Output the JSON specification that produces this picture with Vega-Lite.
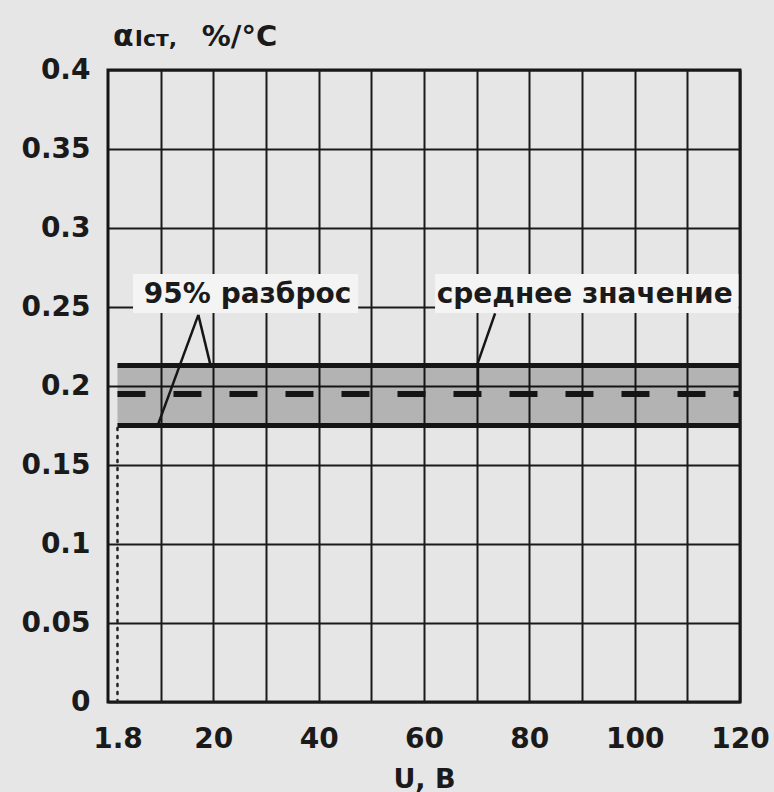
{
  "$schema": "https://vega.github.io/schema/vega-lite/v6.json",
  "width": 632,
  "height": 632,
  "autosize": {"type": "none"},
  "padding": {"left": 108, "top": 70, "right": 34, "bottom": 90},
  "background": "#e6e6e6",
  "config": {
    "view": {"stroke": "#151515", "strokeWidth": 3},
    "font": "DejaVu Sans"
  },
  "datasets": {
    "band": [{"u_from": 1.8, "u_to": 120, "base": 0, "lower": 0.175, "mean": 0.195, "upper": 0.213}],
    "boxes": [
      {"x1": 4.75, "x2": 47.5, "y1": 0.2462, "y2": 0.2709},
      {"x1": 62.1, "x2": 119.7, "y1": 0.2462, "y2": 0.2709}
    ],
    "labels": [
      {"text": "95% разброс", "u": 26.5, "a": 0.2576},
      {"text": "среднее значение", "u": 90.5, "a": 0.2576}
    ],
    "pointers": [
      {"u": 17.15, "a": 0.245, "u2": 9.55, "a2": 0.176},
      {"u": 17.15, "a": 0.245, "u2": 19.4, "a2": 0.214},
      {"u": 73.5, "a": 0.246, "u2": 70.3, "a2": 0.2154},
      {"u": 70.25, "a": 0.2154, "u2": 70.25, "a2": 0.195}
    ]
  },
  "layer": [
    {
      "data": {"name": "band"},
      "mark": {"type": "rect", "fill": "#000000", "opacity": 0.22},
      "encoding": {
        "x": {
          "field": "u_from", "type": "quantitative",
          "scale": {"domain": [0, 120], "nice": false, "zero": false},
          "axis": {
            "values": [1.8, 10, 20, 30, 40, 50, 60, 70, 80, 90, 100, 110, 120],
            "format": "~r",
            "labelExpr": "(datum.value == 1.8 || datum.value % 20 == 0) ? datum.label : ''",
            "grid": true,
            "gridColor": "#1a1a1a",
            "gridWidth": 2,
            "gridOpacity": {"condition": {"test": "datum.value == 1.8", "value": 0}, "value": 1},
            "ticks": false,
            "tickSize": 0,
            "domain": false,
            "labelFont": "DejaVu Sans",
            "labelFontWeight": "bold",
            "labelFontSize": 28,
            "labelColor": "#1a1a1a",
            "labelPadding": 23,
            "labelFlush": false,
            "labelOverlap": false,
            "title": "U, В",
            "titleFont": "DejaVu Sans",
            "titleFontSize": 27,
            "titleFontWeight": "bold",
            "titleColor": "#1a1a1a",
            "titleBaseline": "alphabetic",
            "titleY": 85
          }
        },
        "x2": {"field": "u_to"},
        "y": {
          "field": "lower", "type": "quantitative",
          "scale": {"domain": [0, 0.4], "nice": false, "zero": false},
          "axis": {
            "values": [0, 0.05, 0.1, 0.15, 0.2, 0.25, 0.3, 0.35, 0.4],
            "format": "~r",
            "grid": true,
            "gridColor": "#1a1a1a",
            "gridWidth": 2,
            "ticks": false,
            "tickSize": 0,
            "domain": false,
            "labelFont": "DejaVu Sans",
            "labelFontWeight": "bold",
            "labelFontSize": 28,
            "labelColor": "#1a1a1a",
            "labelPadding": 18,
            "labelOverlap": false,
            "title": null
          }
        },
        "y2": {"field": "upper"}
      }
    },
    {
      "data": {"name": "band"},
      "mark": {"type": "rule", "color": "#151515", "strokeWidth": 5},
      "encoding": {
        "x": {"field": "u_from", "type": "quantitative"},
        "x2": {"field": "u_to"},
        "y": {"field": "upper", "type": "quantitative"}
      }
    },
    {
      "data": {"name": "band"},
      "mark": {"type": "rule", "color": "#151515", "strokeWidth": 5},
      "encoding": {
        "x": {"field": "u_from", "type": "quantitative"},
        "x2": {"field": "u_to"},
        "y": {"field": "lower", "type": "quantitative"}
      }
    },
    {
      "data": {"name": "band"},
      "mark": {"type": "rule", "color": "#151515", "strokeWidth": 6, "strokeDash": [28, 28]},
      "encoding": {
        "x": {"field": "u_from", "type": "quantitative"},
        "x2": {"field": "u_to"},
        "y": {"field": "mean", "type": "quantitative"}
      }
    },
    {
      "data": {"name": "band"},
      "mark": {"type": "rule", "color": "#222222", "strokeWidth": 2.5, "strokeDash": [2, 6], "strokeCap": "round"},
      "encoding": {
        "x": {"field": "u_from", "type": "quantitative"},
        "y": {"field": "base", "type": "quantitative"},
        "y2": {"field": "lower"}
      }
    },
    {
      "data": {"name": "boxes"},
      "mark": {"type": "rect", "fill": "#f4f4f4"},
      "encoding": {
        "x": {"field": "x1", "type": "quantitative"},
        "x2": {"field": "x2"},
        "y": {"field": "y1", "type": "quantitative"},
        "y2": {"field": "y2"}
      }
    },
    {
      "data": {"name": "labels"},
      "mark": {"type": "text", "font": "DejaVu Sans", "fontWeight": "bold", "fontSize": 28, "color": "#1a1a1a", "align": "center", "baseline": "middle"},
      "encoding": {
        "x": {"field": "u", "type": "quantitative"},
        "y": {"field": "a", "type": "quantitative"},
        "text": {"field": "text", "type": "nominal"}
      }
    },
    {
      "data": {"name": "pointers"},
      "mark": {"type": "rule", "color": "#151515", "strokeWidth": 2.5},
      "encoding": {
        "x": {"field": "u", "type": "quantitative"},
        "y": {"field": "a", "type": "quantitative"},
        "x2": {"field": "u2"},
        "y2": {"field": "a2"}
      }
    },
    {
      "data": {"values": [{"text": "α", "u": 0.95, "a": 0.4152}]},
      "mark": {"type": "text", "font": "DejaVu Sans", "fontWeight": "bold", "fontSize": 30, "color": "#1a1a1a", "align": "left", "baseline": "alphabetic"},
      "encoding": {
        "x": {"field": "u", "type": "quantitative"},
        "y": {"field": "a", "type": "quantitative"},
        "text": {"field": "text", "type": "nominal"}
      }
    },
    {
      "data": {"values": [{"text": "Iст,", "u": 5.1, "a": 0.4152}]},
      "mark": {"type": "text", "font": "DejaVu Sans", "fontWeight": "bold", "fontSize": 22, "color": "#1a1a1a", "align": "left", "baseline": "alphabetic"},
      "encoding": {
        "x": {"field": "u", "type": "quantitative"},
        "y": {"field": "a", "type": "quantitative"},
        "text": {"field": "text", "type": "nominal"}
      }
    },
    {
      "data": {"values": [{"text": "%/°C", "u": 17.8, "a": 0.4152}]},
      "mark": {"type": "text", "font": "DejaVu Sans", "fontWeight": "bold", "fontSize": 29, "color": "#1a1a1a", "align": "left", "baseline": "alphabetic"},
      "encoding": {
        "x": {"field": "u", "type": "quantitative"},
        "y": {"field": "a", "type": "quantitative"},
        "text": {"field": "text", "type": "nominal"}
      }
    }
  ]
}
